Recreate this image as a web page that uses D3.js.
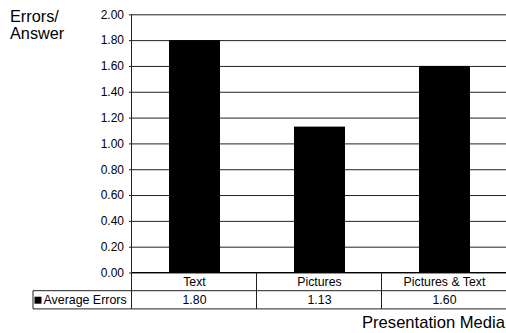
<!DOCTYPE html>
<html>
<head>
<meta charset="utf-8">
<script src="https://cdn.jsdelivr.net/npm/d3@7"></script>
<style>
  html, body { margin: 0; padding: 0; background: #fff; }
  svg { display: block; }
  text { font-family: "Liberation Sans", Arial, Helvetica, sans-serif; fill: #000; }
</style>
</head>
<body>
<svg id="chart" width="506" height="333"></svg>
<script>
// Average errors per answer by presentation medium
const categories = ["Text", "Pictures", "Pictures & Text"];
const averageErrors = [1.80, 1.13, 1.60];
const seriesName = "Average Errors";
const yTicks = [0, 0.2, 0.4, 0.6, 0.8, 1.0, 1.2, 1.4, 1.6, 1.8, 2.0];

const svg = d3.select("#chart");
const plotLeft = 132, plotRight = 507, plotTop = 14.3, plotBottom = 272.5;
const rowH = 18.2;

const y = d3.scaleLinear().domain([0, 2]).range([plotBottom, plotTop]);
const cell = d3.scaleBand().domain(categories).range([plotLeft, plotRight]).padding(0);
const x = d3.scaleBand().domain(categories).range([plotLeft, plotRight])
  .paddingInner(0.592).paddingOuter(0.296);

// Horizontal gridlines with the y axis ticks
const yAxis = d3.axisLeft(y).tickValues(yTicks).tickFormat(d3.format(".2f"))
  .tickSize(-(506 - plotLeft)).tickPadding(6);
const ga = svg.append("g").attr("transform", `translate(${plotLeft},0)`).call(yAxis);
ga.select(".domain").remove();
ga.selectAll(".tick line").attr("stroke", "#222").attr("stroke-width", 1)
  .attr("x1", -3).attr("x2", 506 - plotLeft);
ga.selectAll(".tick text").attr("font-size", 12).attr("font-family", "Liberation Sans, Arial, sans-serif")
  .attr("x", -8);

// Bars
svg.append("g").selectAll("rect").data(averageErrors).join("rect")
  .attr("x", (d, i) => x(categories[i]))
  .attr("width", x.bandwidth())
  .attr("y", d => y(d))
  .attr("height", d => y(0) - y(d))
  .attr("fill", "#000");

// Vertical axis line running down through the data table
svg.append("line").attr("x1", plotLeft - 0.5).attr("x2", plotLeft - 0.5)
  .attr("y1", plotTop).attr("y2", plotBottom + 2 * rowH)
  .attr("stroke", "#222");

// Data table below the plot
const tbl = svg.append("g");
const row1 = plotBottom, row2 = plotBottom + rowH, row3 = plotBottom + 2 * rowH;
tbl.append("line").attr("x1", plotLeft).attr("x2", 506).attr("y1", row1).attr("y2", row1).attr("stroke", "#000");
tbl.append("line").attr("x1", 33).attr("x2", 506).attr("y1", row2).attr("y2", row2).attr("stroke", "#222");
tbl.append("line").attr("x1", 33).attr("x2", 506).attr("y1", row3).attr("y2", row3).attr("stroke", "#222");
tbl.append("line").attr("x1", 33).attr("x2", 33).attr("y1", row2).attr("y2", row3).attr("stroke", "#222");
tbl.selectAll("line.div").data(categories.slice(1)).join("line").attr("class", "div")
  .attr("x1", d => cell(d) - 0.5).attr("x2", d => cell(d) - 0.5)
  .attr("y1", row1).attr("y2", row3).attr("stroke", "#222");

tbl.selectAll("text.cat").data(categories).join("text").attr("class", "cat")
  .attr("x", d => cell(d) + cell.bandwidth() / 2)
  .attr("y", row1 + 13.8)
  .attr("text-anchor", "middle").attr("font-size", 12.3)
  .text(d => d);

tbl.selectAll("text.val").data(averageErrors).join("text").attr("class", "val")
  .attr("x", (d, i) => cell(categories[i]) + cell.bandwidth() / 2)
  .attr("y", row2 + 13.6)
  .attr("text-anchor", "middle").attr("font-size", 12.3)
  .text(d => d3.format(".2f")(d));

// Legend key in the row header
tbl.append("rect").attr("x", 34.5).attr("y", row2 + 6).attr("width", 7).attr("height", 7).attr("fill", "#000");
tbl.append("text").attr("x", 43.5).attr("y", row2 + 13.6).attr("font-size", 12.4).text(seriesName);

// Axis titles
const yt = svg.append("text").attr("x", 10).attr("font-size", 16.3);
yt.append("tspan").attr("x", 10).attr("y", 21.5).text("Errors/");
yt.append("tspan").attr("x", 10).attr("y", 38.5).text("Answer");
svg.append("text").attr("x", 505).attr("y", 328).attr("text-anchor", "end")
  .attr("font-size", 16.6).text("Presentation Media");
</script>
</body>
</html>
